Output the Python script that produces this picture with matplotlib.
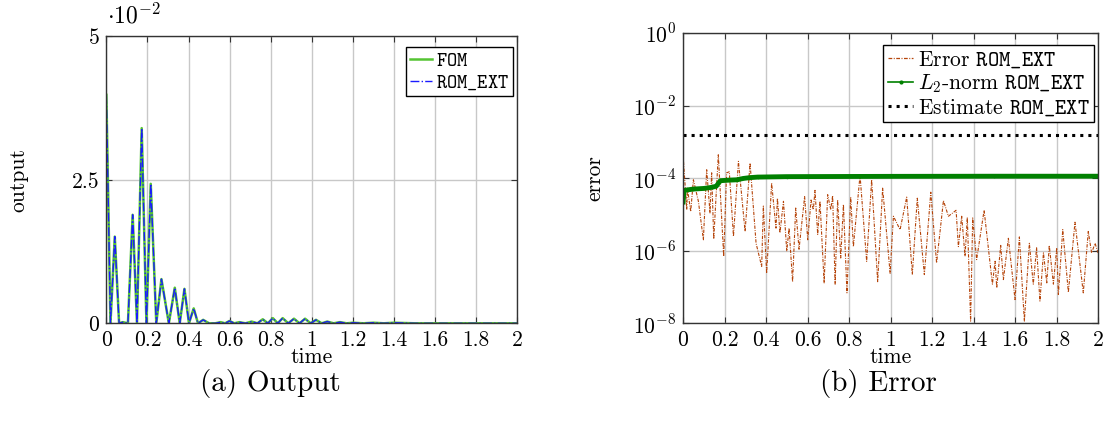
import numpy as np
import matplotlib
matplotlib.use("Agg")
import matplotlib.pyplot as plt
from matplotlib.lines import Line2D

plt.rcParams["font.family"] = "cmr10"
plt.rcParams["mathtext.fontset"] = "cm"
plt.rcParams["axes.unicode_minus"] = False

# ---- (a) output: peaks and zeros ----
output_t = [0.0, 0.02, 0.041, 0.062, 0.08, 0.105, 0.128, 0.149, 0.172, 0.195,
            0.216, 0.243, 0.268, 0.304, 0.333, 0.357, 0.380, 0.402, 0.425, 0.446,
            0.471, 0.50, 0.53, 0.556, 0.578, 0.599, 0.623, 0.647, 0.677, 0.707,
            0.735, 0.761, 0.786, 0.81, 0.834, 0.858, 0.885, 0.913, 0.94, 0.967,
            0.994, 1.020, 1.048, 1.075, 1.106, 1.137, 1.17, 1.2, 1.25, 1.3,
            1.35, 1.4, 1.5, 1.7, 2.0]
output_fom = [0.0398, 0.0, 0.0151, 0.0, 0.0002, 0.0, 0.0189, 0.0, 0.0340, 0.0,
              0.0243, 0.0, 0.0077, 0.0, 0.0062, 0.0, 0.0060, 0.0, 0.0026, 0.0,
              0.0006, 0.0, 0.0, 0.0002, 0.0, 0.0004, 0.0, 0.0002, 0.0, 0.0003,
              0.0, 0.0007, 0.0, 0.0009, 0.0, 0.0009, 0.0, 0.0008, 0.0, 0.0008,
              0.0, 0.0006, 0.0, 0.0003, 0.0, 0.0002, 0.0, 0.0001, 0.0, 0.0001,
              0.0, 0.0001, 0.0, 0.0, 0.0]
output_rom = list(output_fom)

# ---- (b) error: local maxima / minima ----
error_t = [0.0, 0.018, 0.021, 0.037, 0.050, 0.074, 0.098, 0.114, 0.130, 0.138,
           0.148, 0.170, 0.196, 0.210, 0.223, 0.243, 0.267, 0.299, 0.323, 0.352,
           0.379, 0.387, 0.403, 0.427, 0.448, 0.455, 0.467, 0.484, 0.500, 0.511,
           0.528, 0.543, 0.559, 0.586, 0.601, 0.617, 0.628, 0.636, 0.649, 0.660,
           0.680, 0.697, 0.712, 0.721, 0.733, 0.745, 0.760, 0.773, 0.790, 0.808,
           0.821, 0.853, 0.885, 0.909, 0.938, 0.962, 0.998, 1.014, 1.046, 1.078,
           1.105, 1.129, 1.163, 1.194, 1.222, 1.255, 1.279, 1.316, 1.327, 1.343,
           1.359, 1.370, 1.386, 1.396, 1.415, 1.451, 1.491, 1.504, 1.512, 1.531,
           1.544, 1.568, 1.600, 1.621, 1.645, 1.669, 1.688, 1.704, 1.720, 1.737,
           1.753, 1.765, 1.785, 1.801, 1.809, 1.830, 1.857, 1.889, 1.929, 1.953,
           1.969, 1.986, 2.0]
error_rom = [4.4e-4, 1.35e-5, 5.3e-5, 1.2e-5, 9.0e-5, 2.3e-5, 2.0e-6, 1.7e-4, 1.1e-5, 1.4e-4,
             2.1e-6, 4.4e-4, 7.0e-7, 1.4e-4, 1.5e-4, 2.5e-6, 2.9e-4, 3.4e-6, 2.6e-4, 1.6e-6,
             3.7e-7, 1.7e-5, 2.4e-7, 7.3e-5, 4.2e-6, 2.8e-5, 3.1e-6, 2.3e-5, 9.7e-7, 4.2e-6,
             1.4e-7, 1.5e-5, 1.1e-6, 3.1e-5, 2.0e-6, 2.5e-5, 1.35e-5, 4.6e-5, 2.8e-6, 2.3e-5,
             1.3e-7, 3.5e-5, 1.35e-5, 3.3e-5, 1.2e-7, 2.5e-5, 6.3e-7, 1.9e-5, 6.9e-8, 3.0e-5,
             1.3e-6, 1.2e-4, 5.1e-7, 9.0e-5, 1.4e-7, 5.3e-5, 2.4e-7, 8.9e-6, 3.8e-6, 3.0e-5,
             2.2e-7, 2.8e-5, 2.2e-7, 4.1e-5, 4.6e-7, 2.4e-5, 8.9e-6, 1.3e-5, 1.3e-6, 8.9e-6,
             7.0e-7, 8.3e-6, 1.15e-8, 8.0e-6, 5.7e-7, 1.3e-5, 1.2e-7, 5.1e-7, 9.5e-8, 1.4e-6,
             1.6e-7, 2.2e-6, 4.5e-8, 2.4e-6, 1.15e-8, 1.6e-6, 1.2e-7, 1.2e-6, 4.1e-8, 8.7e-7,
             1.3e-7, 1.4e-6, 1.2e-7, 1.2e-6, 6.2e-8, 3.8e-6, 7.2e-8, 6.1e-6, 6.9e-8, 3.4e-6,
             8.7e-7, 1.6e-6, 8.7e-7]

l2_t = [0.0, 0.005, 0.05, 0.10, 0.14, 0.16, 0.18, 0.22, 0.26, 0.29, 0.32, 0.36, 0.5, 1.0, 1.5, 2.0]
l2_rom = [2.2e-5, 4.6e-5, 5.0e-5, 5.2e-5, 5.6e-5, 6.0e-5, 8.5e-5, 8.8e-5, 9.0e-5, 9.8e-5,
          1.03e-4, 1.07e-4, 1.1e-4, 1.12e-4, 1.13e-4, 1.13e-4]

estimate_t = [0.0, 2.0]
estimate_rom = [1.56e-3, 1.56e-3]

x_ticks = [0, 0.2, 0.4, 0.6, 0.8, 1, 1.2, 1.4, 1.6, 1.8, 2]
x_ticklabels = ["0", "0.2", "0.4", "0.6", "0.8", "1", "1.2", "1.4", "1.6", "1.8", "2"]
y_ticks_out = [0, 0.025, 0.05]
y_ticklabels_out = ["0", "2.5", "5"]
y_ticks_err = [1e-8, 1e-6, 1e-4, 1e-2, 1e0]
y_ticklabels_err = [r"$10^{-8}$", r"$10^{-6}$", r"$10^{-4}$", r"$10^{-2}$", r"$10^{0}$"]

TICK = 15.5
LEG = 14
grid_col = "#c8c8c8"
err_dash = (0, (3.0, 1.2, 0.8, 1.2))


def style_axes(ax):
    ax.grid(True, color=grid_col, linewidth=1.0)
    ax.set_axisbelow(True)
    ax.tick_params(direction="in", top=True, right=True, length=4,
                   width=0.8, labelsize=TICK, pad=5, color="#333333")
    ax.tick_params(which="minor", length=0)
    for s in ax.spines.values():
        s.set_linewidth(1.0)
        s.set_color("#333333")
    ax.set_xlim(0, 2)
    ax.set_xticks(x_ticks)
    ax.set_xticklabels(x_ticklabels)
    ax.set_xlabel("time", fontsize=TICK)
    ax.xaxis.set_label_coords(0.5, -0.085)


fig = plt.figure(figsize=(11.09, 4.29), dpi=100)
ax1 = fig.add_axes([0.0959, 0.2464, 0.3706, 0.669])
ax2 = fig.add_axes([0.6159, 0.2464, 0.3742, 0.6767])

# (a) output
ax1.plot(output_t, output_fom, color="#55c433", linewidth=1.8, label=r"$\mathtt{FOM}$")
ax1.plot(output_t, output_rom, color="#1a1aff", linewidth=1.0, linestyle="-.",
         label=r"$\mathtt{ROM\_EXT}$")
style_axes(ax1)
ax1.set_ylim(0, 0.05)
ax1.set_yticks(y_ticks_out)
ax1.set_yticklabels(y_ticklabels_out)
ax1.set_ylabel("output", fontsize=TICK)
ax1.yaxis.set_label_coords(-0.19, 0.5)
ax1.legend(loc="upper right", bbox_to_anchor=(1.0, 0.975), fontsize=LEG,
           fancybox=False, edgecolor="black", framealpha=1, borderpad=0.25,
           handlelength=1.1, handletextpad=0.2, labelspacing=0.15,
           borderaxespad=0.2)
fig.text(0.0965, 0.963, r"$\cdot 10^{-2}$", fontsize=17, ha="left", va="center")

# (b) error
ax2.plot(error_t, error_rom, color="#b5440a", linewidth=0.8, linestyle=err_dash,
         label=r"Error $\mathtt{ROM\_EXT}$")
ax2.plot(l2_t, l2_rom, color="#008000", linewidth=3.5, marker=".", markersize=3,
         label=r"$L_2$-norm $\mathtt{ROM\_EXT}$")
ax2.plot(estimate_t, estimate_rom, color="black", linewidth=2.2, linestyle=":",
         label=r"Estimate $\mathtt{ROM\_EXT}$")
ax2.set_yscale("log")
style_axes(ax2)
ax2.set_ylim(1e-8, 1)
ax2.set_yticks(y_ticks_err)
ax2.set_yticklabels(y_ticklabels_err)
ax2.set_ylabel("error", fontsize=TICK)
ax2.yaxis.set_label_coords(-0.19, 0.5)
leg_handles = [
    Line2D([], [], color="#b5440a", linewidth=0.9, linestyle=err_dash),
    Line2D([], [], color="#008000", linewidth=1.2, marker=".", markersize=4),
    Line2D([], [], color="black", linewidth=2.2, linestyle=":"),
]
ax2.legend(leg_handles, [r"Error $\mathtt{ROM\_EXT}$", r"$L_2$-norm $\mathtt{ROM\_EXT}$",
                         r"Estimate $\mathtt{ROM\_EXT}$"],
           loc="upper right", bbox_to_anchor=(1.0, 0.975), fontsize=15.5,
           fancybox=False, edgecolor="black", framealpha=1, borderpad=0.2,
           handlelength=1.2, handletextpad=0.2, labelspacing=0.12,
           borderaxespad=0.2)

fig.text(270 / 1109, 0.105, "(a) Output", fontsize=21, ha="center", va="center")
fig.text(878 / 1109, 0.105, "(b) Error", fontsize=21, ha="center", va="center")

fig.savefig("out.png", dpi=100)
